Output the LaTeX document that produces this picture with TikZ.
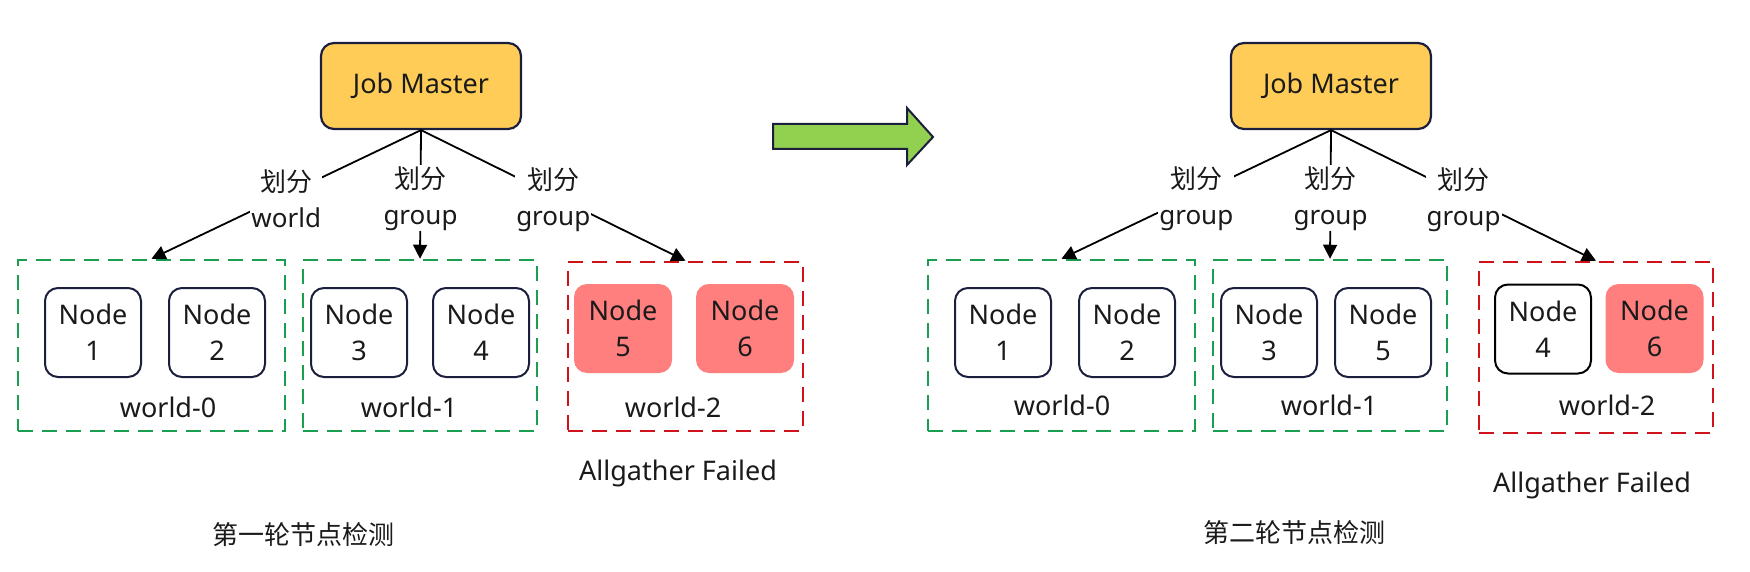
\documentclass[tikz,border=0pt]{standalone}
\usepackage{fontspec}
\setmainfont{Noto Sans}
\newfontfamily\cjk{Noto Sans CJK SC}
\usetikzlibrary{arrows.meta}
\definecolor{jmfill}{HTML}{FFCD57}
\definecolor{navy}{HTML}{1B1E3D}
\definecolor{nodered}{HTML}{FF7F7F}
\definecolor{dgreen}{HTML}{1A9E50}
\definecolor{dred}{HTML}{D0131B}
\definecolor{arrgreen}{HTML}{92D050}
\definecolor{txt}{HTML}{1A1A1A}
\tikzset{
  every node/.style={text=txt, font=\fontsize{27}{36}\selectfont},
  master/.style={draw=navy, line width=2.2pt, fill=jmfill, rounded corners=13pt,
    minimum width=200pt, minimum height=86pt, inner sep=0pt},
  wnode/.style={draw=navy, line width=2pt, rounded corners=13pt,
    minimum width=96pt, minimum height=89pt, inner sep=0pt, align=center},
  bnode/.style={draw=black, line width=2pt, rounded corners=13pt,
    minimum width=96pt, minimum height=89pt, inner sep=0pt, align=center},
  rnode/.style={fill=nodered, rounded corners=13pt,
    minimum width=98pt, minimum height=89pt, inner sep=0pt, align=center},
  gbox/.style={draw=dgreen, line width=2.5pt, dash pattern=on 15pt off 9pt,
    inner sep=0pt},
  rbox/.style={draw=dred, line width=2.5pt, dash pattern=on 15pt off 9pt,
    inner sep=0pt},
  conn/.style={draw=black, line width=1.8pt, -{Triangle[length=14pt, width=14pt]}},
  lbl/.style={fill=white, inner sep=1pt, align=center, yshift=-4pt,
    font=\fontsize{26}{36}\selectfont},
  wlabel/.style={inner sep=0pt},
  bigarrow/.style={draw=navy, line width=2pt, fill=arrgreen, line join=miter},
}
\begin{document}
\begin{tikzpicture}[x=1pt, y=-1pt]
\useasboundingbox (0,0) rectangle (1750,572);

% ---------- left half ----------
\node[master] (jm1) at (421,86) {Job Master};

\node[gbox, minimum width=267pt, minimum height=171pt] (g1) at (151.5,345.5) {};
\node[gbox, minimum width=234pt, minimum height=171pt] (g2) at (420,345.5) {};
\node[rbox, minimum width=235pt, minimum height=169pt] (r1) at (685.5,346.5) {};

\node[wnode] (n1) at (93,332.5) {Node\\1};
\node[wnode] (n2) at (217,332.5) {Node\\2};
\node[wnode] (n3) at (359,332.5) {Node\\3};
\node[wnode] (n4) at (481,332.5) {Node\\4};
\node[rnode] (n5) at (623,328.5) {Node\\5};
\node[rnode] (n6) at (745,328.5) {Node\\6};

\node[wlabel] (w0) at (168,407) {world-0};
\node[wlabel] (w1) at (409,407) {world-1};
\node[wlabel] (w2) at (673,407) {world-2};

\node[wlabel] (af1) at (678,473) {Allgather Failed};
\node[wlabel, font=\cjk\fontsize{26}{30}\selectfont] (t1) at (303,535) {第一轮节点检测};

\draw[conn] (jm1.south) -- node[lbl] (l1) {{\cjk 划分}\\world} (g1.north);
\draw[conn] (jm1.south) -- node[lbl] (l2) {{\cjk 划分}\\group} (g2.north);
\draw[conn] (jm1.south) -- node[lbl] (l3) {{\cjk 划分}\\group} (r1.north);

% ---------- transition arrow ----------
\draw[bigarrow] (773,124) -- (907,124) -- (907,108) -- (933,137) -- (907,165) -- (907,149) -- (773,149) -- cycle;

% ---------- right half ----------
\node[master] (jm2) at (1331,86) {Job Master};

\node[gbox, minimum width=267pt, minimum height=171pt] (g3) at (1061.5,345.5) {};
\node[gbox, minimum width=234pt, minimum height=171pt] (g4) at (1330,345.5) {};
\node[rbox, minimum width=234pt, minimum height=171pt] (r2) at (1596,347.5) {};

\node[wnode] (m1) at (1003,332.5) {Node\\1};
\node[wnode] (m2) at (1127,332.5) {Node\\2};
\node[wnode] (m3) at (1269,332.5) {Node\\3};
\node[wnode] (m5) at (1383,332.5) {Node\\5};
\node[bnode] (m4) at (1543,329) {Node\\4};
\node[rnode] (m6) at (1654.5,328.5) {Node\\6};

\node[wlabel] (v0) at (1062,405) {world-0};
\node[wlabel] (v1) at (1329,405) {world-1};
\node[wlabel] (v2) at (1607,405) {world-2};

\node[wlabel] (af2) at (1592,485) {Allgather Failed};
\node[wlabel, font=\cjk\fontsize{26}{30}\selectfont] (t2) at (1294,533) {第二轮节点检测};

\draw[conn] (jm2.south) -- node[lbl] (k1) {{\cjk 划分}\\group} (g3.north);
\draw[conn] (jm2.south) -- node[lbl] (k2) {{\cjk 划分}\\group} (g4.north);
\draw[conn] (jm2.south) -- node[lbl] (k3) {{\cjk 划分}\\group} (r2.north);
\end{tikzpicture}
\end{document}
